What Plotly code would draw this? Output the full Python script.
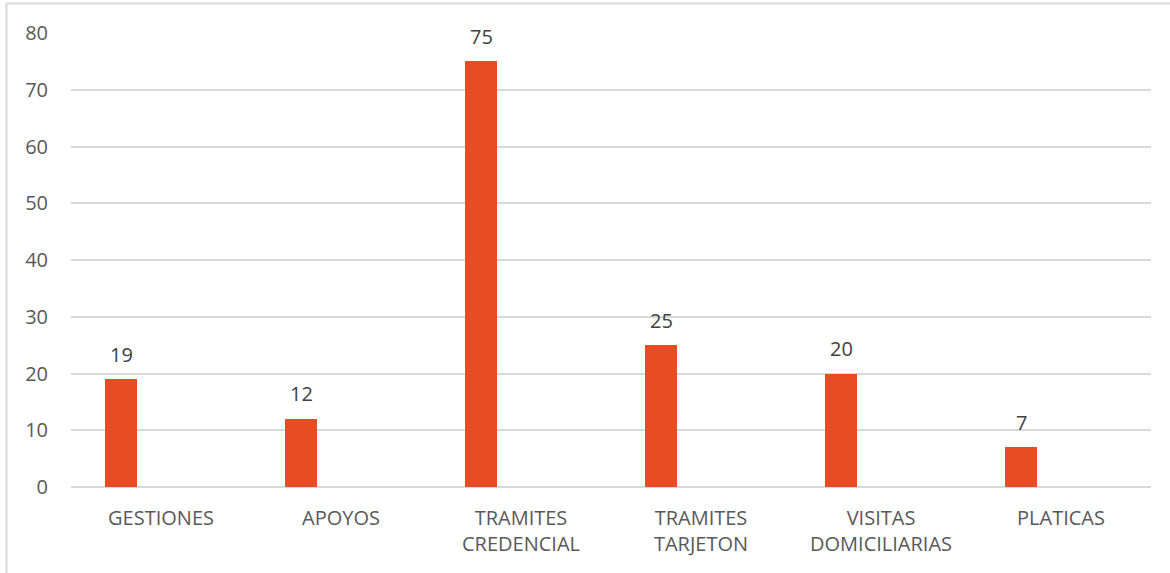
import plotly.graph_objects as go

categories = ["GESTIONES", "APOYOS", "TRAMITES<br>CREDENCIAL", "TRAMITES<br>TARJETON",
              "VISITAS<br>DOMICILIARIAS", "PLATICAS"]
values = [19, 12, 75, 25, 20, 7]
y_ticks = [0, 10, 20, 30, 40, 50, 60, 70, 80]

W, H = 1170, 573
L, R, T, B = 71, 19, 33, 86
pw = W - L - R
ph = H - T - B
cat_px = pw / len(categories)
bar_px = 32
off_px = -40

fig = go.Figure()
fig.add_trace(go.Bar(
    x=categories, y=values,
    marker=dict(color="#E84C22", line=dict(width=0)),
    width=bar_px / cat_px,
    offset=(off_px - bar_px / 2) / cat_px,
    hoverinfo="x+y",
))

for c, v in zip(categories, values):
    fig.add_annotation(x=c, y=v, text=str(v), showarrow=False,
                       xshift=off_px, yshift=25, yanchor="middle",
                       font=dict(family="Open Sans", size=20, color="#404040"))

fig.add_shape(type="rect", xref="paper", yref="paper",
              x0=(6.5 - L) / pw, x1=(W + 10 - L) / pw,
              y0=(H - B - (H + 10)) / ph, y1=(H - B - 3.5) / ph,
              line=dict(color="#D9D9D9", width=2), layer="below")

fig.update_layout(
    width=W, height=H,
    margin=dict(l=L, r=R, t=T, b=B, autoexpand=False),
    paper_bgcolor="white", plot_bgcolor="white",
    showlegend=False,
    font=dict(family="Open Sans", size=20, color="#595959"),
    xaxis=dict(range=[-0.5, len(categories) - 0.5], showgrid=False, showline=False,
               ticks="", zeroline=False, tickfont=dict(size=20, color="#595959"),
               ticklabelstandoff=17, automargin=False, fixedrange=True),
    yaxis=dict(range=[0, 80], tickvals=y_ticks, showgrid=True, gridcolor="#D9D9D9",
               gridwidth=1.5, zeroline=True, zerolinecolor="#D9D9D9", zerolinewidth=2,
               showline=False, ticks="", tickfont=dict(size=20, color="#595959"),
               ticklabelstandoff=22, automargin=False, fixedrange=True),
    bargap=0,
)

fig.write_html("out.html", config={"displayModeBar": False},
               post_script="document.body.style.margin='0';document.body.style.overflow='hidden';")
